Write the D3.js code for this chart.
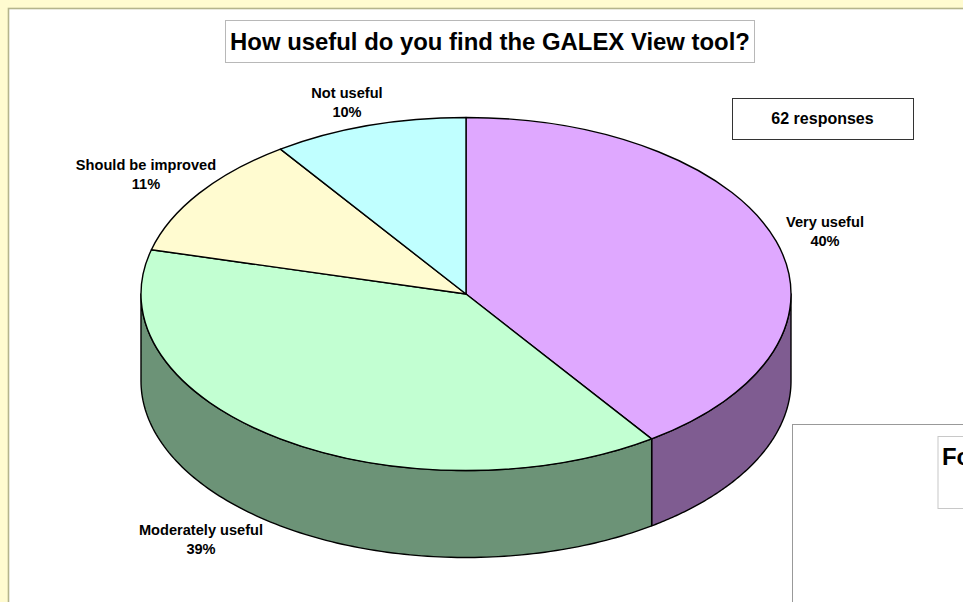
<!DOCTYPE html>
<html><head><meta charset="utf-8">
<script src="https://cdn.jsdelivr.net/npm/d3@7"></script>
<style>html,body{margin:0;padding:0;background:#fffbd0;overflow:hidden}svg{display:block}
text{font-family:"Liberation Sans",Arial,sans-serif;font-weight:bold;fill:#000}</style>
</head><body><svg id="c" width="963" height="602"></svg>
<script>
const categories=["Very useful","Moderately useful","Should be improved","Not useful"];
const responses=[25,24,7,6];
const percents=["40%","39%","11%","10%"];
const topColors=["#dfa8ff","#c2ffd2","#fffbd0","#c0ffff"];
const sideColors=["#7f5c91","#6c9377"];
const titleText="How useful do you find the GALEX View tool?";
const noteText="62 responses";
const clippedTitle="Fo";

const svg=d3.select("#c");
const cx=466,cy=294,rx=325,ry=176.5,depth=87;
const x=d3.scaleLinear().domain([-1,1]).range([cx-rx,cx+rx]);
const y=d3.scaleLinear().domain([-1,1]).range([cy-ry,cy+ry]);
const pie=d3.pie().sort(null)(responses);

// page panels
svg.append("rect").attr("width",963).attr("height",602).attr("fill","#fffbd0");
svg.append("rect").attr("x",8.5).attr("y",8.5).attr("width",980).attr("height",620).attr("fill","#fff").attr("stroke","#b4b48c").attr("stroke-width",1.6);

// side walls
const line=d3.line().x(d=>d[0]).y(d=>d[1]);
const arcPts=(a0,a1,dy)=>d3.range(0,121).map(i=>{const a=a0+(a1-a0)*i/120;return [x(Math.sin(a)),y(-Math.cos(a))+dy];});
const front=[[Math.PI/2,pie[0].endAngle,0],[pie[1].startAngle,3*Math.PI/2,1]];
front.forEach(([a0,a1,c])=>{
  const pts=arcPts(a0,a1,0).concat(arcPts(a1,a0,depth));
  svg.append("path").attr("d",line(pts)+"Z").attr("fill",sideColors[c]).attr("stroke","#000").attr("stroke-width",1.4).attr("stroke-linejoin","round");
});

// top slices
const arc=d3.arc().innerRadius(0).outerRadius(1);
svg.append("g").attr("transform",`translate(${cx},${cy}) scale(${rx},${ry})`)
  .selectAll("path").data(pie).join("path")
  .attr("d",arc).attr("fill",(d,i)=>topColors[i])
  .attr("stroke","#000").attr("stroke-width",1.4).attr("vector-effect","non-scaling-stroke").attr("stroke-linejoin","round");

// labels
const labelPos=[[825,227],[201,535],[146,170],[347,98]];
categories.forEach((c,i)=>{
  const t=svg.append("text").attr("text-anchor","middle").attr("font-size",14.6);
  t.append("tspan").attr("x",labelPos[i][0]).attr("y",labelPos[i][1]).text(c);
  t.append("tspan").attr("x",labelPos[i][0]).attr("y",labelPos[i][1]+18.5).text(percents[i]);
});

// title box
svg.append("rect").attr("x",225.5).attr("y",20.5).attr("width",529).attr("height",42).attr("fill","#fff").attr("stroke","#b8b8b8");
svg.append("text").attr("x",490).attr("y",50).attr("text-anchor","middle").attr("font-size",23.9).text(titleText);

// responses box
svg.append("rect").attr("x",732.5).attr("y",98.5).attr("width",181).attr("height",41).attr("fill","#fff").attr("stroke","#333");
svg.append("text").attr("x",822.5).attr("y",124).attr("text-anchor","middle").attr("font-size",16).text(noteText);

// neighbouring panel, cut off by the window
svg.append("rect").attr("x",792.5).attr("y",424.5).attr("width",300).attr("height",300).attr("fill","#fff").attr("stroke","#999");
svg.append("rect").attr("x",938).attr("y",436.5).attr("width",200).attr("height",72).attr("fill","#fff").attr("stroke","#c8c8c8");
svg.append("text").attr("x",942).attr("y",465).attr("font-size",23.9).text(clippedTitle);
</script></body></html>
